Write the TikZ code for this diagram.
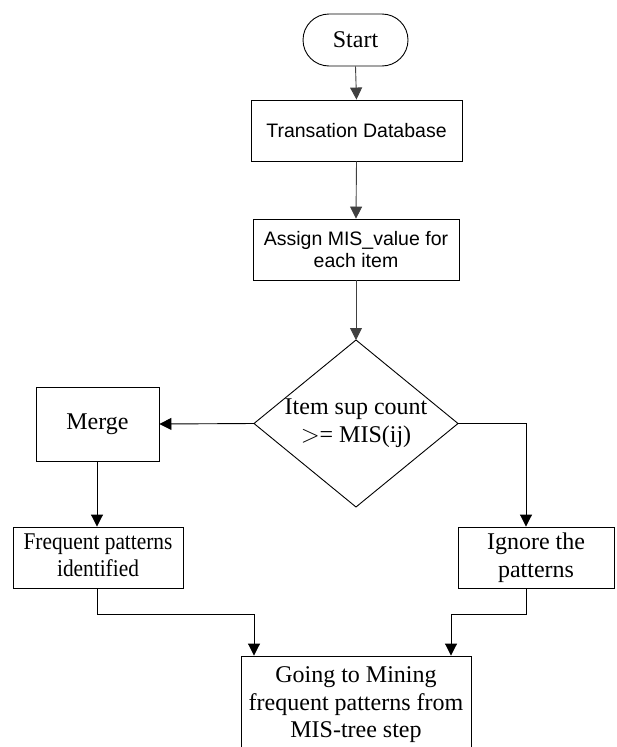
\documentclass[tikz,border=0pt]{standalone}
\usepackage{fontspec}
\setmainfont{Liberation Serif}
\newfontfamily\arialf{Liberation Sans}
\usetikzlibrary{arrows.meta}
\begin{document}
\begin{tikzpicture}[x=1pt,y=-1pt,line width=0.9pt,
  serifbox/.style={draw,inner sep=0pt,align=center,font=\fontsize{24}{27.5}\selectfont},
  sansbox/.style={draw,inner sep=0pt,align=center,font=\arialf\fontsize{19.5}{22}\selectfont},
  conn/.style={-{Triangle[length=12pt,width=12pt]}},
  uconn/.style={conn,draw=black!75}]
\useasboundingbox (0,0) rectangle (617,747);
\clip (0,0) rectangle (617,747);
\node[serifbox,rounded corners=26pt,minimum width=105pt,minimum height=52pt] (start) at (355.5,40) {Start};
\node[sansbox,minimum width=211pt,minimum height=61pt] (trans) at (356.5,130.5) {Transation Database};
\node[sansbox,minimum width=206pt,minimum height=61pt] (assign) at (356,249.5) {Assign MIS\_value for\\each item};
\node[inner sep=0pt,align=center,font=\fontsize{24}{28}\selectfont] (dec) at (356,423.5) {Item sup count\\$>$= MIS(ij)};
\coordinate (dtop) at (356,340);
\coordinate (dbot) at (356,507);
\coordinate (dleft) at (254,423.5);
\coordinate (dright) at (458,423.5);
\draw (dtop) -- (dright) -- (dbot) -- (dleft) -- cycle;
\node[serifbox,minimum width=123pt,minimum height=74pt] (merge) at (97.5,424) {Merge};
\node[serifbox,minimum width=170pt,minimum height=61pt] (freq) at (98,557.5) {\scalebox{0.89}[1]{\begin{tabular}{@{}c@{}}Frequent patterns\\identified\end{tabular}}};
\node[serifbox,minimum width=156pt,minimum height=61pt] (ign) at (536,557.5) {Ignore the\\patterns};
\node[serifbox,minimum width=230pt,minimum height=98pt] (final) at (356,705) {Going to Mining\\frequent patterns from\\MIS-tree step};
\draw[uconn] (start.south) -- (trans.north);
\draw[uconn] (trans.south) -- (assign.north);
\draw[uconn] (assign.south) -- (dtop);
\draw[conn] (dleft) -- (merge.east);
\draw[conn] (dright) -| ([xshift=-10pt]ign.north);
\draw[conn] ([xshift=-0.5pt]merge.south) -- ([xshift=-1pt]freq.north);
\draw[conn] ([xshift=-1pt]freq.south) -- ++(0,26) -| ([xshift=-102pt]final.north);
\draw[conn] ([xshift=-10pt]ign.south) -- ++(0,26) -| ([xshift=95pt]final.north);
\end{tikzpicture}
\end{document}
